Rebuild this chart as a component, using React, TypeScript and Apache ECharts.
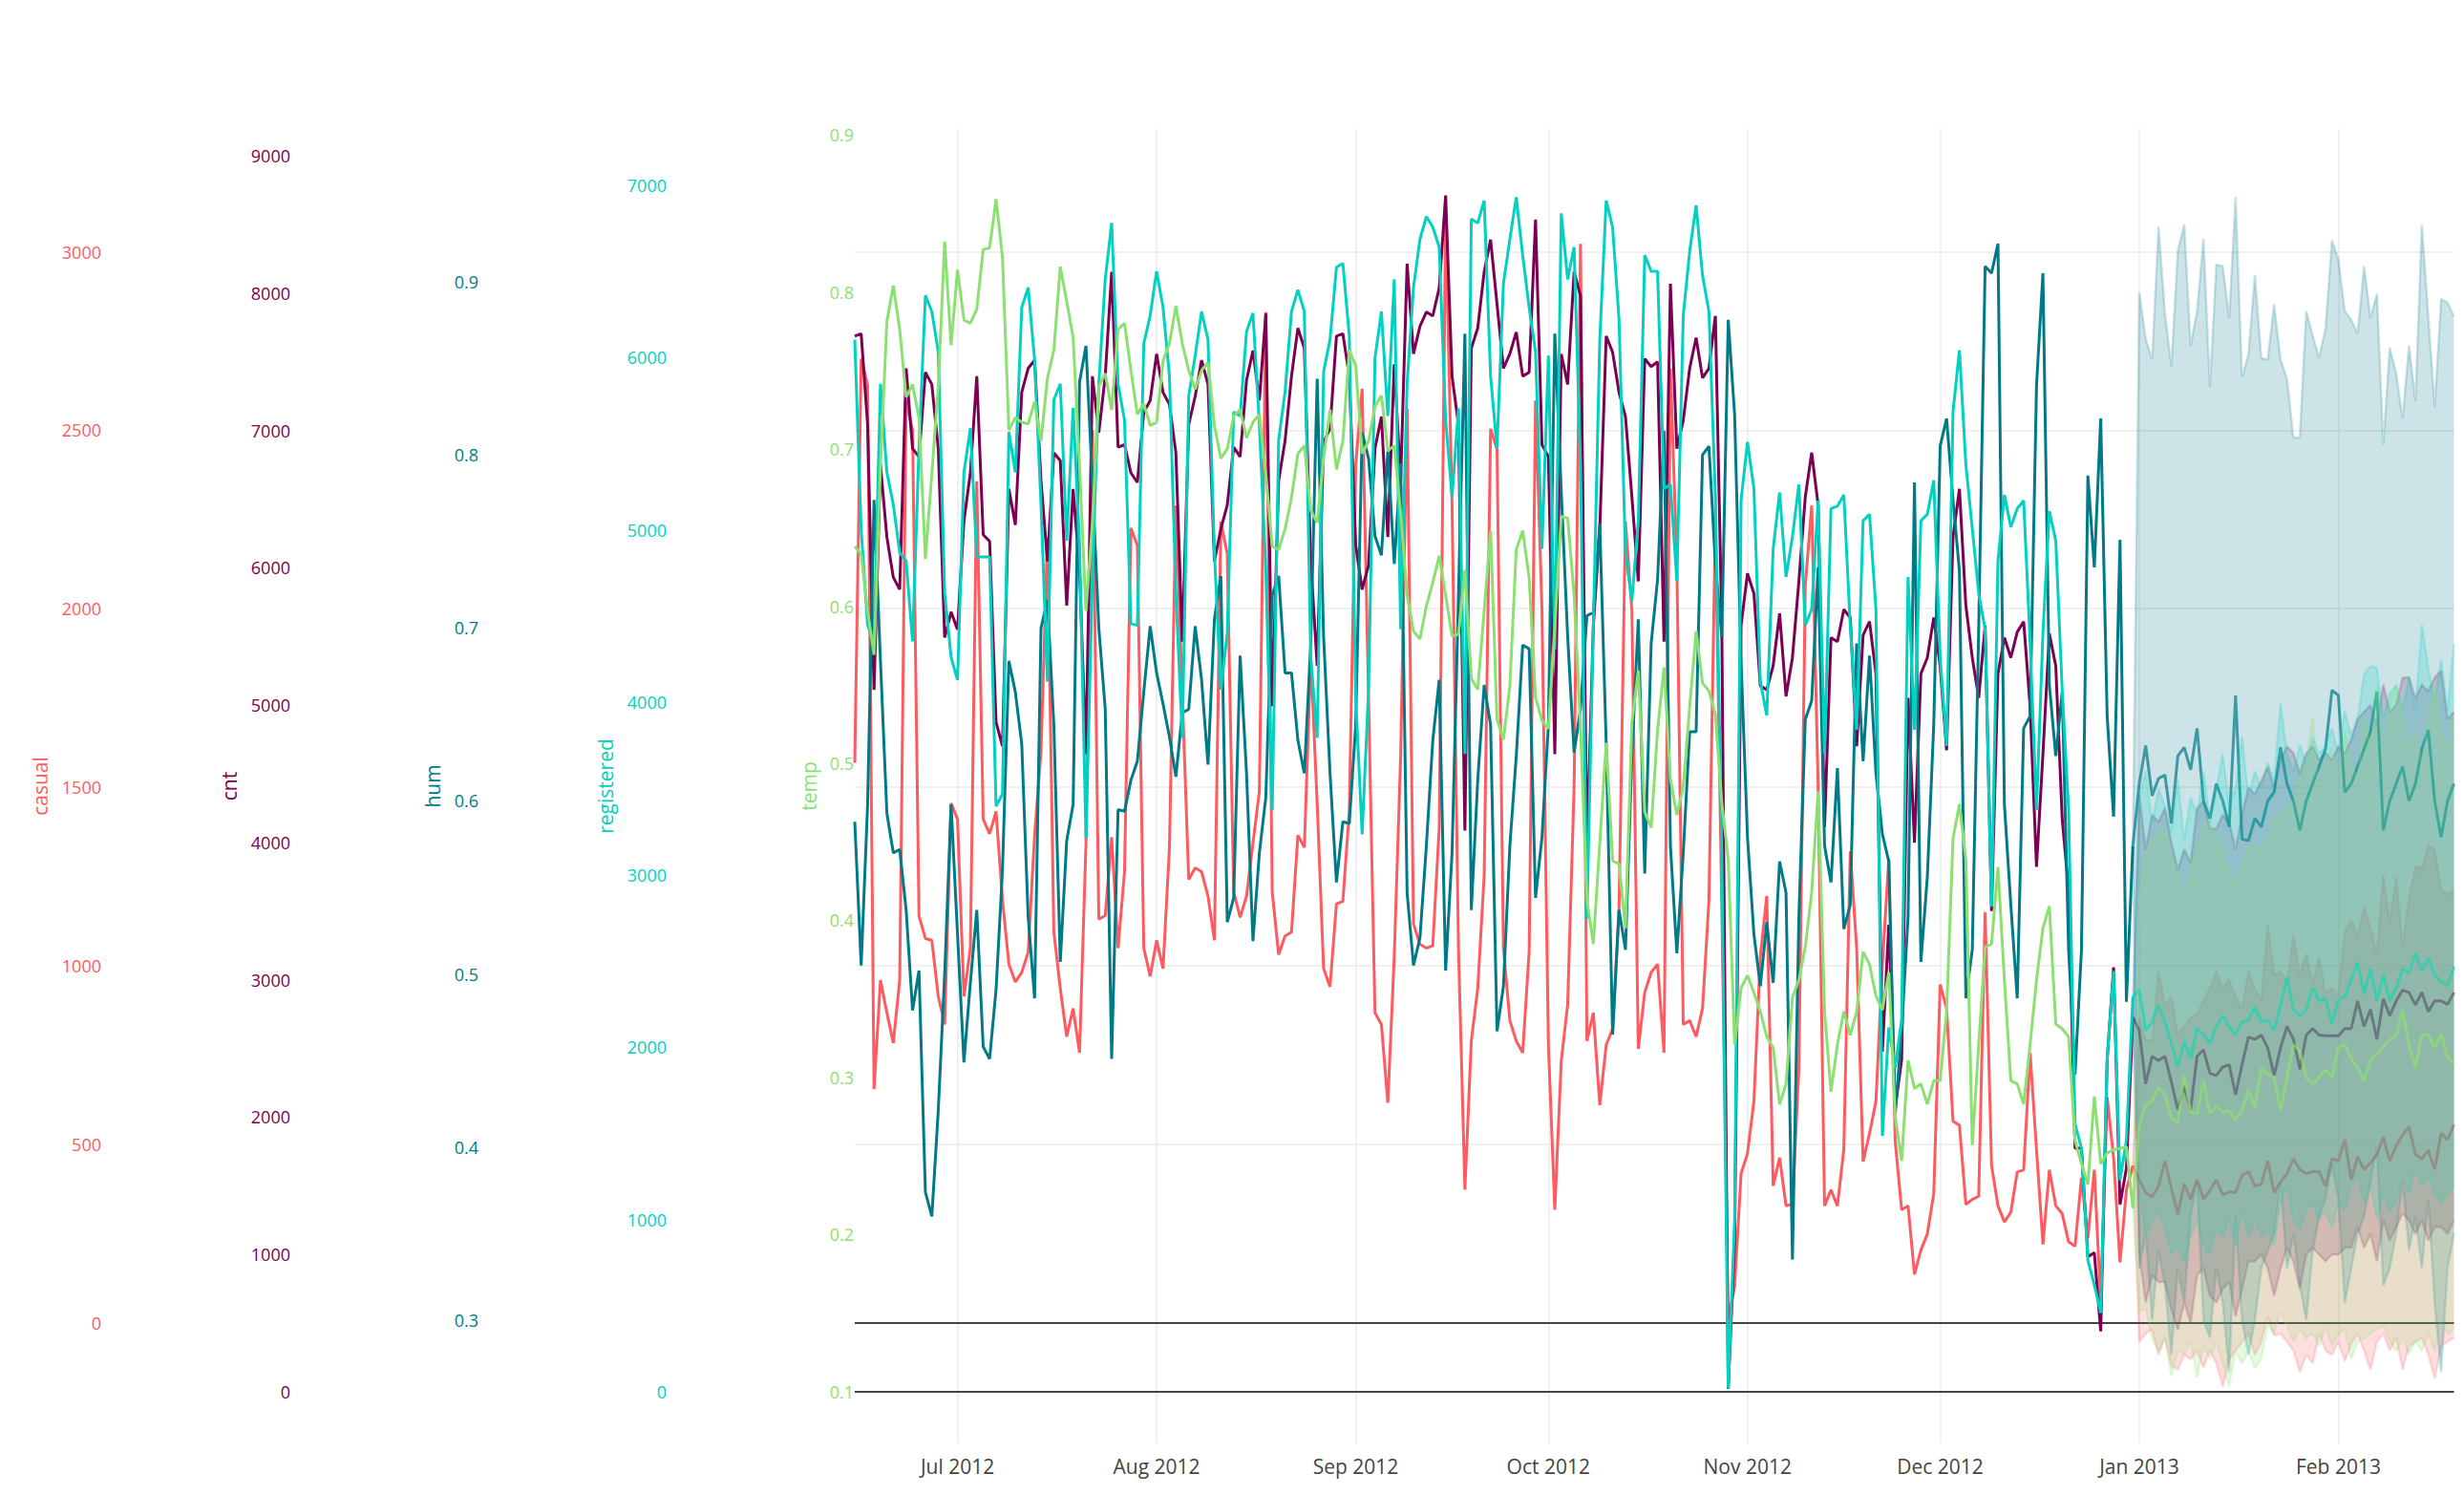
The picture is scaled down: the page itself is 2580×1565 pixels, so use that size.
import { useEffect, useRef } from "react";
import * as echarts from "echarts";

// observed daily values, 2012-06-15 .. 2012-12-31
const casual = [
  1568, 2700, 2628, 654, 959, 868, 783, 959, 2583, 2500, 1139, 1076, 1071, 914, 835, 1455, 1410, 914, 1049, 2357,
  1410, 1369, 1432, 1184, 1004, 954, 981, 1038, 1365, 1600, 2199, 1094, 936, 801, 880, 756, 1342, 2500, 1130, 1140,
  1360, 1049, 1263, 2226, 2177, 1049, 970, 1071, 992, 1331, 2289, 1760, 1241, 1274, 1263, 1195, 1071, 2244, 2154, 1207,
  1135, 1195, 1342, 1489, 2831, 1207, 1031, 1083, 1094, 1365, 1331, 1861, 1455, 992, 941, 1173, 1180, 1432, 2402, 2616,
  1748, 868, 835, 616, 1026, 1590, 2560, 1117, 1060, 1049, 1056, 1387, 3100, 2289, 1049, 372, 789, 936, 1252, 2504,
  2447, 1049, 846, 789, 756, 1038, 2583, 1996, 778, 316, 733, 891, 1500, 3022, 789, 868, 609, 778, 823, 1162,
  2244, 1996, 767, 925, 981, 1004, 756, 2673, 2132, 835, 846, 801, 880, 1184, 2244, 1162, 5, 102, 417, 474,
  620, 1026, 1195, 383, 462, 327, 332, 711, 2064, 2289, 1500, 327, 372, 327, 485, 1320, 1049, 451, 530, 620,
  1000, 1300, 508, 316, 327, 135, 203, 248, 361, 947, 880, 564, 553, 331, 345, 354, 1150, 440, 327, 282,
  309, 422, 428, 756, 485, 219, 428, 327, 305, 226, 214, 406, 237, 428, 56, 632, 462, 169, 372, 440,
];
const cnt = [
  7686, 7704, 7042, 5110, 6750, 6223, 5930, 5842, 7452, 6867, 6808, 7423, 7335, 6867, 5491, 5678, 5550, 6340, 6691, 7394,
  6240, 6193, 4876, 4701, 6574, 6311, 7277, 7452, 7510, 6632, 6047, 6837, 6779, 5725, 6574, 5988, 4642, 7394, 6984, 7394,
  8155, 6878, 6896, 6691, 6621, 7130, 7218, 7557, 7277, 7189, 6838, 5462, 7042, 7247, 7511, 7335, 6047, 6281, 6457, 6878,
  6808, 7364, 7581, 7218, 7850, 4993, 6633, 6925, 7394, 7745, 7598, 6047, 5286, 6914, 7013, 7686, 7704, 7394, 6164, 5842,
  6018, 6867, 7101, 6223, 7481, 6633, 8213, 7557, 7757, 7862, 7833, 8037, 8711, 7394, 7042, 4086, 7598, 7745, 8155, 8389,
  7920, 7452, 7557, 7716, 7394, 7423, 8535, 6896, 6808, 4642, 7557, 7335, 8155, 7979, 3940, 5579, 6281, 7686, 7569, 7277,
  7101, 6516, 5901, 7522, 7464, 7499, 5462, 8067, 6867, 7072, 7452, 7675, 7382, 7452, 7833, 5579, 22, 1096, 5579, 5959,
  5813, 5140, 5111, 5286, 5667, 5064, 5345, 5901, 6516, 6838, 6457, 4115, 5491, 5462, 5696, 5637, 4701, 5509, 5608, 5228,
  2476, 3400, 2066, 2418, 5052, 3998, 5228, 5345, 5637, 5286, 4671, 6223, 6574, 5725, 5345, 5052, 5579, 3501, 5228, 5491,
  5345, 5532, 5608, 4994, 3823, 4642, 5520, 5286, 4174, 3647, 1774, 1774, 983, 1013, 441, 2418, 3091, 1364, 1627, 2729,
];
const hum = [
  0.588, 0.505, 0.598, 0.774, 0.681, 0.593, 0.57, 0.572, 0.537, 0.479, 0.502, 0.374, 0.36, 0.421, 0.5, 0.598, 0.523, 0.449, 0.495, 0.537,
  0.458, 0.451, 0.491, 0.56, 0.681, 0.663, 0.633, 0.533, 0.486, 0.7, 0.716, 0.644, 0.507, 0.577, 0.598, 0.842, 0.863, 0.784, 0.7, 0.653,
  0.451, 0.595, 0.594, 0.612, 0.623, 0.663, 0.701, 0.674, 0.656, 0.637, 0.614, 0.651, 0.653, 0.701, 0.67, 0.621, 0.705, 0.73, 0.53, 0.544,
  0.684, 0.616, 0.519, 0.57, 0.602, 0.719, 0.73, 0.674, 0.674, 0.635, 0.616, 0.691, 0.844, 0.695, 0.616, 0.553, 0.588, 0.587, 0.644, 0.813,
  0.798, 0.753, 0.742, 0.802, 0.737, 0.795, 0.547, 0.505, 0.521, 0.574, 0.635, 0.67, 0.502, 0.57, 0.719, 0.87, 0.537, 0.612, 0.667, 0.644,
  0.467, 0.493, 0.574, 0.626, 0.69, 0.688, 0.544, 0.579, 0.644, 0.87, 0.779, 0.695, 0.628, 0.653, 0.707, 0.709, 0.76, 0.633, 0.465, 0.537,
  0.514, 0.626, 0.705, 0.558, 0.691, 0.728, 0.814, 0.574, 0.512, 0.57, 0.64, 0.64, 0.8, 0.805, 0.737, 0.695, 0.878, 0.823, 0.681, 0.579,
  0.523, 0.493, 0.53, 0.495, 0.565, 0.547, 0.335, 0.533, 0.647, 0.658, 0.735, 0.574, 0.553, 0.619, 0.526, 0.54, 0.691, 0.623, 0.684, 0.616,
  0.581, 0.565, 0.419, 0.467, 0.533, 0.784, 0.507, 0.556, 0.644, 0.805, 0.821, 0.774, 0.733, 0.486, 0.514, 0.7, 0.909, 0.905, 0.922, 0.598,
  0.54, 0.486, 0.642, 0.649, 0.84, 0.905, 0.667, 0.626, 0.663, 0.514, 0.442, 0.514, 0.788, 0.735, 0.821, 0.649, 0.591, 0.751, 0.484, 0.574,
];
const registered = [
  6103, 5000, 4447, 4353, 5847, 5333, 5147, 4867, 4820, 4353, 5473, 6360, 6266, 6033, 4633, 4260, 4129, 5333, 5590, 4843,
  4843, 4843, 3397, 3467, 5567, 5333, 6290, 6406, 5986, 5147, 4120, 5753, 5847, 4937, 5707, 4913, 3210, 4727, 5847, 6453,
  6780, 5846, 5637, 4456, 4446, 6080, 6243, 6500, 6290, 5893, 4633, 3793, 5776, 6010, 6266, 6103, 4867, 4073, 4400, 5683,
  5660, 6150, 6257, 5613, 4773, 3374, 5520, 5800, 6266, 6392, 6266, 4260, 3793, 5917, 6103, 6523, 6546, 6126, 4027, 3234,
  4073, 5996, 6266, 5660, 6453, 4423, 5846, 6406, 6686, 6817, 6756, 6640, 5637, 5193, 5706, 3700, 6803, 6780, 6910, 5893,
  5473, 6430, 6686, 6929, 6593, 6290, 6033, 4890, 6010, 4307, 6836, 6453, 6640, 5380, 2744, 4447, 6103, 6910, 6756, 6220,
  4867, 4587, 5053, 6593, 6500, 6500, 5240, 5263, 4703, 6243, 6616, 6882, 6476, 6266, 5193, 3140, 20, 1000, 5170, 5510,
  5240, 4120, 3924, 4890, 5217, 4727, 4960, 5263, 4447, 4540, 5170, 3700, 5123, 5137, 5203, 4447, 3840, 5053, 5090, 4540,
  1484, 2114, 1880, 2160, 4727, 3840, 5053, 5090, 5287, 4260, 3747, 5683, 6042, 5380, 5007, 4633, 4423, 2814, 4820, 5203,
  5016, 5123, 5170, 4353, 3374, 4400, 5109, 4937, 4073, 3374, 1554, 1414, 761, 621, 457, 1927, 2440, 1227, 1460, 2290,
];
const temp = [
  0.638, 0.633, 0.597, 0.569, 0.689, 0.781, 0.804, 0.776, 0.733, 0.741, 0.72, 0.63, 0.684, 0.74, 0.832, 0.766, 0.814, 0.782, 0.78, 0.789,
  0.827, 0.828, 0.859, 0.822, 0.712, 0.72, 0.717, 0.716, 0.73, 0.705, 0.745, 0.763, 0.816, 0.794, 0.771, 0.689, 0.597, 0.653, 0.74, 0.748,
  0.725, 0.776, 0.78, 0.75, 0.722, 0.729, 0.715, 0.717, 0.756, 0.767, 0.791, 0.767, 0.75, 0.738, 0.75, 0.755, 0.715, 0.694, 0.7, 0.721,
  0.725, 0.707, 0.717, 0.722, 0.684, 0.638, 0.636, 0.649, 0.669, 0.697, 0.702, 0.661, 0.653, 0.694, 0.725, 0.687, 0.705, 0.763, 0.753, 0.697,
  0.705, 0.727, 0.734, 0.699, 0.702, 0.659, 0.607, 0.584, 0.579, 0.6, 0.615, 0.632, 0.607, 0.581, 0.582, 0.623, 0.554, 0.547, 0.597, 0.648,
  0.528, 0.515, 0.549, 0.636, 0.648, 0.618, 0.542, 0.527, 0.522, 0.587, 0.657, 0.656, 0.607, 0.523, 0.413, 0.385, 0.449, 0.513, 0.438, 0.436,
  0.395, 0.526, 0.559, 0.469, 0.459, 0.521, 0.561, 0.49, 0.467, 0.485, 0.536, 0.584, 0.551, 0.546, 0.531, 0.475, 0.439, 0.321, 0.357, 0.365,
  0.354, 0.342, 0.326, 0.319, 0.283, 0.296, 0.351, 0.362, 0.383, 0.418, 0.482, 0.342, 0.291, 0.321, 0.342, 0.327, 0.342, 0.38, 0.372, 0.352,
  0.343, 0.367, 0.275, 0.247, 0.311, 0.293, 0.296, 0.283, 0.298, 0.298, 0.342, 0.452, 0.474, 0.439, 0.257, 0.321, 0.383, 0.385, 0.434, 0.362,
  0.298, 0.296, 0.283, 0.321, 0.362, 0.395, 0.409, 0.334, 0.331, 0.326, 0.26, 0.245, 0.232, 0.288, 0.245, 0.252, 0.254, 0.255, 0.256, 0.217,
];

// forecast, 2013-01-01 .. 2013-02-19
const casualMean = [
  400, 364, 352, 382, 453, 376, 304, 388, 346, 400, 346, 370, 400, 358, 366, 364, 412, 423, 382, 388, 453, 364, 394, 417, 459,
  429, 417, 423, 423, 382, 459, 453, 513, 400, 465, 429, 447, 471, 519, 453, 495, 525, 549, 471, 459, 483, 429, 531, 513, 555,
];
const casualUpper = [
  854, 794, 788, 985, 889, 913, 806, 830, 854, 865, 901, 937, 985, 937, 961, 913, 877, 985, 937, 901, 1116, 973, 985, 949, 1086,
  973, 1033, 949, 1021, 925, 937, 919, 1093, 1128, 1081, 1164, 1104, 1033, 1254, 1116, 1248, 1057, 1188, 1278, 1272, 1337, 1325, 1212, 1200, 1212,
];
const casualLower = [
  -54, -31, -18, -90, -42, -120, -132, -90, -102, -78, -126, -78, -114, -180, -102, -78, -54, -31, -90, -54, 17, -36, -31, -54, -78,
  -138, -90, -114, -31, -78, -90, -54, -108, -60, -31, -78, -132, -54, -31, -78, -42, -132, -66, -54, -42, -90, -156, -66, -54, -42,
];
const cntMean = [
  2629, 2241, 2443, 2412, 2443, 2257, 2055, 2225, 2055, 2443, 2490, 2319, 2303, 2365, 2381, 2163, 2381, 2583, 2567, 2598, 2505, 2303, 2505, 2660, 2567,
  2350, 2598, 2645, 2598, 2592, 2592, 2592, 2645, 2645, 2846, 2660, 2784, 2567, 2862, 2738, 2846, 2924, 2908, 2816, 2908, 2769, 2846, 2846, 2821, 2908,
];
const cntUpper = [
  4350, 3950, 4200, 4150, 4250, 4000, 3800, 3950, 3850, 4250, 4300, 4100, 4100, 4200, 4150, 3950, 4200, 4400, 4350, 4450, 4550, 4400, 4600, 4700, 4650,
  4500, 4650, 4700, 4600, 4650, 4600, 4700, 4650, 4750, 4900, 4950, 5000, 4850, 5150, 4950, 5000, 5200, 5200, 5050, 5150, 5100, 5200, 5250, 4900, 4950,
];
const cntLower = [
  1000, 650, 850, 800, 800, 600, 450, 650, 500, 850, 900, 700, 650, 750, 800, 550, 750, 950, 950, 1000, 900, 700, 900, 1050, 950,
  750, 1000, 1050, 1000, 950, 1000, 1000, 1050, 1050, 1200, 1050, 1150, 950, 1250, 1100, 1200, 1300, 1250, 1150, 1250, 1100, 1200, 1200, 1150, 1250,
];
const humMean = [
  0.61, 0.632, 0.603, 0.613, 0.615, 0.587, 0.626, 0.631, 0.618, 0.642, 0.6, 0.59, 0.61, 0.6, 0.585, 0.661, 0.578, 0.577, 0.59, 0.585, 0.6, 0.605, 0.631, 0.61, 0.6,
  0.583, 0.6, 0.61, 0.62, 0.63, 0.664, 0.661, 0.605, 0.61, 0.62, 0.63, 0.64, 0.663, 0.583, 0.6, 0.61, 0.62, 0.6, 0.61, 0.63, 0.641, 0.6, 0.579, 0.6, 0.61,
];
const humUpper = [
  0.894, 0.867, 0.855, 0.932, 0.882, 0.851, 0.918, 0.933, 0.863, 0.883, 0.925, 0.839, 0.91, 0.909, 0.879, 0.949, 0.845, 0.858, 0.904, 0.856, 0.855, 0.887, 0.855, 0.844, 0.81,
  0.81, 0.883, 0.869, 0.856, 0.873, 0.924, 0.913, 0.883, 0.878, 0.87, 0.909, 0.879, 0.893, 0.806, 0.862, 0.847, 0.821, 0.863, 0.831, 0.933, 0.88, 0.828, 0.89, 0.888, 0.88,
];
const humLower = [
  0.33, 0.35, 0.3, 0.34, 0.32, 0.28, 0.33, 0.31, 0.36, 0.38, 0.3, 0.29, 0.33, 0.31, 0.27, 0.36, 0.3, 0.28, 0.3, 0.33, 0.34, 0.35, 0.38, 0.33, 0.35,
  0.32, 0.3, 0.34, 0.36, 0.37, 0.39, 0.37, 0.31, 0.33, 0.35, 0.36, 0.38, 0.4, 0.32, 0.33, 0.35, 0.38, 0.34, 0.36, 0.33, 0.37, 0.31, 0.27, 0.33, 0.35,
];
const registeredMean = [
  2331, 2096, 2145, 2245, 2145, 2022, 1885, 2034, 1935, 2108, 2071, 2022, 2120, 2182, 2120, 2071, 2145, 2158, 2232, 2145, 2158, 2096, 2245, 2405, 2219,
  2182, 2219, 2343, 2269, 2282, 2133, 2269, 2294, 2393, 2492, 2306, 2455, 2269, 2418, 2269, 2343, 2455, 2430, 2541, 2443, 2517, 2418, 2380, 2356, 2467,
];
const registeredUpper = [
  3450, 3600, 3300, 3500, 3400, 3250, 3550, 3200, 3450, 3350, 3600, 3300, 3500, 3700, 3400, 3500, 3800, 3450, 3600, 3500, 3650, 3550, 4000, 3700, 3600,
  3750, 3650, 3800, 3700, 3750, 3850, 3700, 3950, 3800, 3900, 4160, 4210, 4200, 3900, 4050, 4100, 3950, 4150, 3950, 4450, 4200, 4000, 4250, 3950, 4340,
];
const registeredLower = [
  1200, 900, 1000, 1050, 950, 800, 850, 750, 900, 1000, 850, 800, 950, 900, 1000, 850, 1050, 900, 1000, 900, 950, 850, 1100, 1200, 1000,
  950, 1050, 1100, 1000, 1050, 950, 1100, 1050, 1200, 1250, 1100, 1200, 1000, 1150, 1050, 1100, 1250, 1150, 1300, 1200, 1250, 1150, 1100, 1150, 1200,
];
const tempMean = [
  0.27, 0.283, 0.285, 0.294, 0.289, 0.274, 0.271, 0.302, 0.278, 0.277, 0.298, 0.277, 0.282, 0.278, 0.279, 0.273, 0.279, 0.292, 0.281, 0.306, 0.302, 0.3, 0.279, 0.3, 0.321,
  0.317, 0.3, 0.296, 0.3, 0.305, 0.3, 0.319, 0.321, 0.312, 0.306, 0.298, 0.311, 0.315, 0.32, 0.324, 0.327, 0.343, 0.321, 0.306, 0.327, 0.327, 0.319, 0.328, 0.313, 0.309,
];
const tempUpper = [
  0.416, 0.443, 0.452, 0.456, 0.457, 0.441, 0.428, 0.415, 0.433, 0.446, 0.46, 0.462, 0.454, 0.446, 0.431, 0.424, 0.435, 0.447, 0.449, 0.443, 0.452, 0.464, 0.468, 0.47, 0.476,
  0.49, 0.5, 0.53, 0.48, 0.5, 0.51, 0.49, 0.52, 0.5, 0.49, 0.53, 0.51, 0.55, 0.5, 0.54, 0.55, 0.53, 0.51, 0.52, 0.5, 0.53, 0.55, 0.52, 0.51, 0.53,
];
const tempLower = [
  0.151, 0.153, 0.134, 0.126, 0.134, 0.11, 0.126, 0.124, 0.132, 0.109, 0.129, 0.121, 0.132, 0.118, 0.103, 0.126, 0.118, 0.126, 0.115, 0.121, 0.142, 0.137, 0.151, 0.142, 0.132,
  0.14, 0.134, 0.137, 0.129, 0.142, 0.129, 0.137, 0.14, 0.121, 0.132, 0.134, 0.137, 0.14, 0.142, 0.132, 0.126, 0.134, 0.124, 0.132, 0.126, 0.137, 0.126, 0.145, 0.137, 0.14,
];

// tick labels
const casualTicks = [0, 500, 1000, 1500, 2000, 2500, 3000];
const cntTicks = [0, 1000, 2000, 3000, 4000, 5000, 6000, 7000, 8000, 9000];
const humTicks = [0.3, 0.4, 0.5, 0.6, 0.7, 0.8, 0.9];
const registeredTicks = [0, 1000, 2000, 3000, 4000, 5000, 6000, 7000];
const tempTicks = [0.1, 0.2, 0.3, 0.4, 0.5, 0.6, 0.7, 0.8, 0.9];
const monthTicks = [
  Date.UTC(2012, 6, 1), Date.UTC(2012, 7, 1), Date.UTC(2012, 8, 1), Date.UTC(2012, 9, 1),
  Date.UTC(2012, 10, 1), Date.UTC(2012, 11, 1), Date.UTC(2013, 0, 1), Date.UTC(2013, 1, 1),
];
const MONTHS = ["Jan", "Feb", "Mar", "Apr", "May", "Jun", "Jul", "Aug", "Sep", "Oct", "Nov", "Dec"];

const DAY = 86400000;
const histStart = Date.UTC(2012, 5, 15);
const fcStart = Date.UTC(2013, 0, 1);
const histDates = casual.map((_, i) => histStart + i * DAY);
const fcDates = casualMean.map((_, i) => fcStart + i * DAY);

const metrics = [
  { name: "casual", color: "#FF5A5F", obs: casual, mean: casualMean, lower: casualLower, upper: casualUpper,
    ticks: casualTicks, min: -338.5, max: 3343.9, offset: 787, gap: 56 },
  { name: "cnt", color: "#7B0051", obs: cnt, mean: cntMean, lower: cntLower, upper: cntUpper,
    ticks: cntTicks, min: -375.6, max: 9194.6, offset: 589, gap: 56 },
  { name: "hum", color: "#007A87", obs: hum, mean: humMean, lower: humLower, upper: humUpper,
    ticks: humTicks, min: 0.2288, max: 0.9883, offset: 392, gap: 40 },
  { name: "registered", color: "#00D1C1", obs: registered, mean: registeredMean, lower: registeredLower, upper: registeredUpper,
    ticks: registeredTicks, min: -299.2, max: 7325.4, offset: 195, gap: 56 },
  { name: "temp", color: "#8CE071", obs: temp, mean: tempMean, lower: tempLower, upper: tempUpper,
    ticks: tempTicks, min: 0.06717, max: 0.90365, offset: 0, gap: 37 },
];

function fade(hex: string, a: number) {
  const n = parseInt(hex.slice(1), 16);
  return `rgba(${(n >> 16) & 255},${(n >> 8) & 255},${n & 255},${a})`;
}

const FONT = "'Open Sans', 'Noto Sans', sans-serif";

export default function App() {
  const ref = useRef<HTMLDivElement>(null);

  useEffect(() => {
    if (!ref.current) return;
    const chart = echarts.init(ref.current, undefined, { renderer: "svg" });

    const lastDay = histDates[histDates.length - 1];
    const series: any[] = [];
    metrics.forEach((m, i) => {
      const last = m.obs[m.obs.length - 1];
      series.push({
        name: m.name,
        type: "line",
        yAxisIndex: i,
        data: histDates.map((t, k) => [t, m.obs[k]]),
        symbol: "none",
        lineStyle: { color: m.color, width: 3 },
        itemStyle: { color: m.color },
        markLine:
          i < 2
            ? {
                silent: true,
                symbol: "none",
                label: { show: false },
                lineStyle: { color: "#444", width: 1.8, type: "solid" },
                data: [{ yAxis: 0 }],
              }
            : undefined,
      });

      // forecast band: [date, lower, upper], starting from the last observed day
      const band = [[lastDay, last, last], ...fcDates.map((t, k) => [t, m.lower[k], m.upper[k]])];
      series.push({
        name: m.name + " band",
        type: "custom",
        yAxisIndex: i,
        silent: true,
        clip: true,
        data: band,
        encode: { x: 0, y: [1, 2] },
        renderItem: (params: any, api: any) => {
          if (params.dataIndex !== 0) return null;
          const top = band.map((p) => api.coord([p[0], p[2]]));
          const bottom = band.map((p) => api.coord([p[0], p[1]])).reverse();
          return {
            type: "polygon",
            shape: { points: top.concat(bottom) },
            style: { fill: fade(m.color, 0.2), stroke: null },
          };
        },
      });
      series.push({
        name: m.name + " lower",
        type: "line",
        yAxisIndex: i,
        data: band.map((p) => [p[0], p[1]]),
        symbol: "none",
        lineStyle: { color: fade(m.color, 0.2), width: 2.5 },
      });
      series.push({
        name: m.name + " upper",
        type: "line",
        yAxisIndex: i,
        data: band.map((p) => [p[0], p[2]]),
        symbol: "none",
        lineStyle: { color: fade(m.color, 0.2), width: 2.5 },
      });
      series.push({
        name: m.name + " forecast",
        type: "line",
        yAxisIndex: i,
        data: [[lastDay, last], ...fcDates.map((t, k) => [t, m.mean[k]])],
        symbol: "none",
        lineStyle: { color: fade(m.color, 0.7), width: 3 },
      });
    });
    // draw strictly in series order, so later bands veil earlier forecast lines
    series.forEach((s, k) => {
      s.z = 2 + k;
    });

    chart.setOption({
      animation: false,
      backgroundColor: "#fff",
      grid: { left: 895, right: 10.5, top: 135, bottom: 54 },
      xAxis: {
        type: "value",
        min: histStart,
        max: Date.UTC(2013, 1, 19),
        axisLine: { show: false },
        axisTick: { show: false, customValues: monthTicks },
        axisLabel: {
          customValues: monthTicks,
          formatter: (v: number) => {
            const d = new Date(v);
            return MONTHS[d.getUTCMonth()] + " " + d.getUTCFullYear();
          },
          color: "#444",
          fontSize: 21,
          fontFamily: FONT,
          margin: 13,
        },
        splitLine: { show: true, lineStyle: { color: "#ebebeb", width: 1.5 } },
      },
      yAxis: metrics.map((m, i) => ({
        type: "value",
        position: "left",
        offset: m.offset,
        min: m.min,
        max: m.max,
        name: m.name,
        nameLocation: "middle",
        nameRotate: 90,
        nameGap: m.gap,
        nameTextStyle: { color: m.color, fontSize: 21, fontFamily: FONT },
        axisLine: { show: false },
        axisTick: { show: false, customValues: m.ticks },
        axisLabel: {
          customValues: m.ticks,
          formatter: (v: number) => String(v),
          color: m.color,
          fontSize: 18,
          fontFamily: FONT,
          margin: m.offset === 0 ? 1 : 2,
        },
        splitLine: { show: i === 0, lineStyle: { color: "#ebebeb", width: 1.5 } },
      })),
      series,
    });

    return () => chart.dispose();
  }, []);

  return <div ref={ref} style={{ position: "fixed", left: 0, top: 0, width: 2580, height: 1565 }} />;
}
